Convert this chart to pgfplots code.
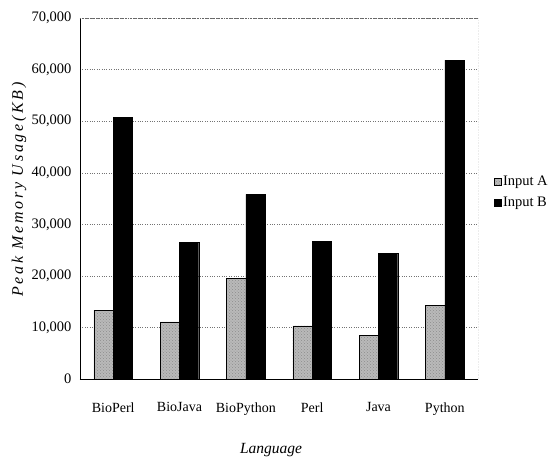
\documentclass[border=0pt]{standalone}
\usepackage{fontspec}
\setmainfont{Liberation Serif}
\usepackage{pgfplots}
\pgfplotsset{compat=1.18}
\usetikzlibrary{patterns}
\begin{document}
\begin{tikzpicture}
\begin{axis}[
  at={(0,0)}, anchor=south west,
  scale only axis,
  width=398pt, height=361pt,
  ybar=0pt,
  bar width=0.29,
  xmin=-0.5, xmax=5.5,
  ymin=0, ymax=70000,
  xtick={0,1,2,3,4,5},
  xticklabels={BioPerl,BioJava,BioPython,Perl,Java,Python},
  ytick={0,10000,20000,30000,40000,50000,60000,70000},
  scaled y ticks=false,
  /pgf/number format/.cd, 1000 sep={,}, assume math mode=true,
  /pgfplots/.cd,
  major tick length=0pt,
  ymajorgrids,
  grid style={dotted, black!55},
  axis x line*=bottom,
  axis y line*=left,
  axis line style={black, line width=0.8pt, -},
  tick label style={font=\fontsize{14.5}{16}\selectfont},
  xticklabel style={font=\fontsize{14}{16}\selectfont, yshift=-20pt},
  yticklabel style={xshift=-5pt},
  xlabel={\itshape Language},
  xlabel style={font=\fontsize{15.5}{18}\selectfont, at={(axis description cs:0.48,0)}, anchor=center, yshift=-71pt},
  ylabel={\addfontfeature{LetterSpace=17}\itshape Peak Memory Usage(KB)},
  ylabel style={font=\fontsize{16}{18}\selectfont, at={(axis description cs:0,0.525)}, anchor=center, yshift=61pt},
  legend style={at={(1.04,0.517)}, anchor=west, draw=none, fill=none, inner sep=0pt,
    font=\fontsize{14.5}{16}\selectfont, row sep=6pt, legend cell align=left},
  legend image code/.code={\draw[#1] (0pt,-3.5pt) rectangle (6.5pt,3.5pt);},
]
\addplot[draw=black, fill=gray!55, postaction={pattern=crosshatch dots, pattern color=black!45}] coordinates
  {(0,13350) (1,11080) (2,19540) (3,10310) (4,8510) (5,14310)};
\addlegendentry{Input A}
\addplot[draw=black, fill=black] coordinates
  {(0,50700) (1,26500) (2,35780) (3,26750) (4,24430) (5,61840)};
\addlegendentry{Input B}
\draw[black!60, densely dotted, line width=0.6pt] (rel axis cs:0,1) -- (rel axis cs:1,1) -- (rel axis cs:1,0);
\end{axis}
\pgfresetboundingbox
\path (-80pt,-80pt) rectangle (471pt,379pt);
\end{tikzpicture}
\end{document}
